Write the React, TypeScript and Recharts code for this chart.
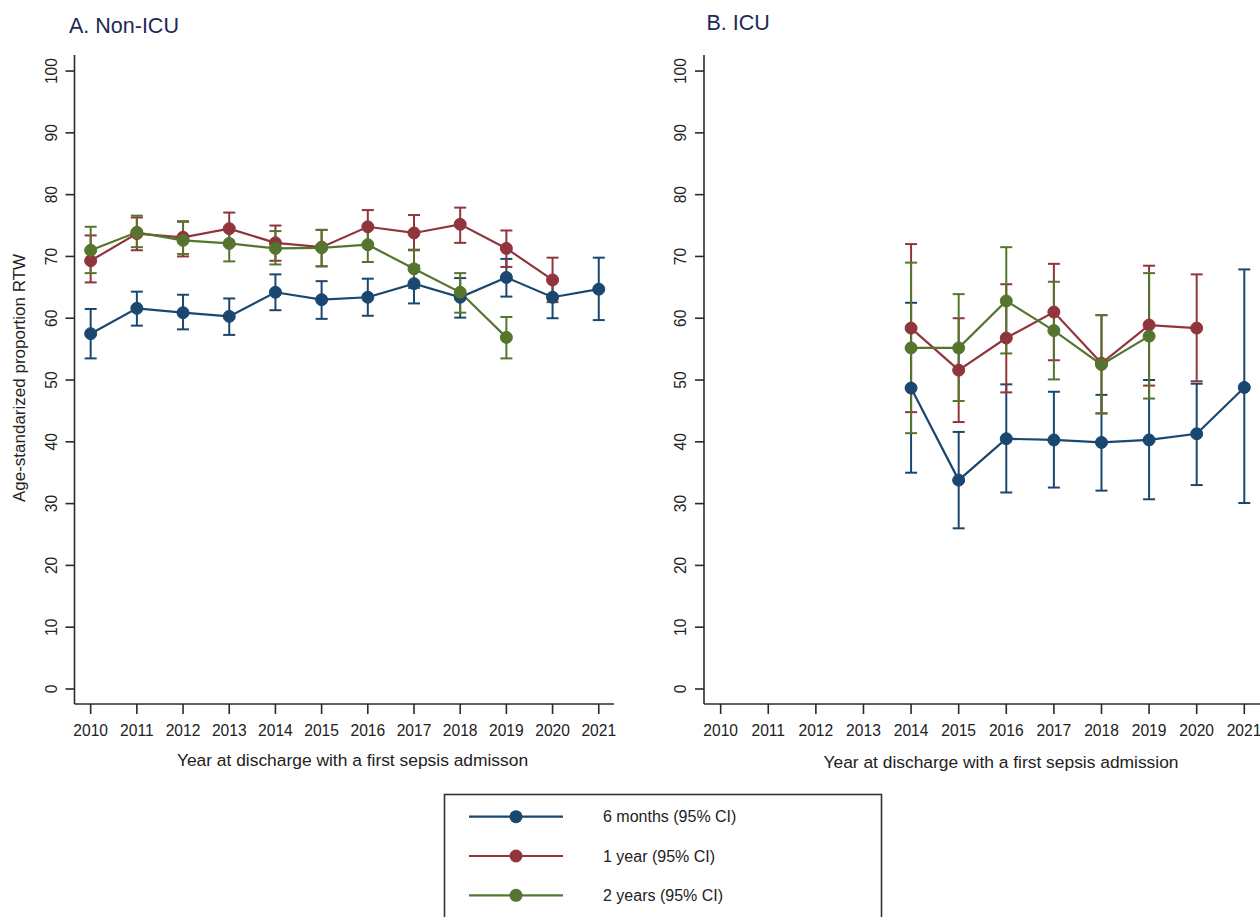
import { ErrorBar, Line, LineChart, XAxis, YAxis } from 'recharts'

// years on the x axis
const years = [2010, 2011, 2012, 2013, 2014, 2015, 2016, 2017, 2018, 2019, 2020, 2021]
const yTicks = [0, 10, 20, 30, 40, 50, 60, 70, 80, 90, 100]

// A. Non-ICU
const nonIcu6m = [57.5, 61.6, 60.9, 60.3, 64.2, 63.0, 63.4, 65.6, 63.4, 66.6, 63.4, 64.7]
const nonIcu6mLo = [53.5, 58.8, 58.2, 57.3, 61.3, 59.9, 60.4, 62.4, 60.1, 63.5, 60.0, 59.7]
const nonIcu6mHi = [61.5, 64.3, 63.8, 63.2, 67.1, 66.0, 66.4, 68.5, 66.5, 69.6, 66.3, 69.8]

const nonIcu1y = [69.3, 73.7, 73.1, 74.5, 72.2, 71.5, 74.8, 73.8, 75.2, 71.3, 66.2]
const nonIcu1yLo = [65.8, 71.0, 70.0, 71.8, 69.3, 68.4, 72.1, 71.0, 72.2, 68.3, 62.6]
const nonIcu1yHi = [73.4, 76.3, 75.7, 77.1, 75.0, 74.3, 77.5, 76.7, 77.9, 74.2, 69.8]

const nonIcu2y = [71.0, 73.9, 72.6, 72.1, 71.3, 71.4, 71.9, 68.0, 64.2, 56.9]
const nonIcu2yLo = [67.3, 71.5, 70.4, 69.2, 68.7, 68.4, 69.1, 64.9, 60.9, 53.5]
const nonIcu2yHi = [74.8, 76.6, 75.6, 74.7, 74.1, 74.3, 74.8, 71.1, 67.3, 60.2]

// B. ICU (starts 2014)
const icuYears = [2014, 2015, 2016, 2017, 2018, 2019, 2020, 2021]

const icu6m = [48.7, 33.8, 40.5, 40.3, 39.9, 40.3, 41.3, 48.8]
const icu6mLo = [35.0, 26.0, 31.8, 32.6, 32.1, 30.7, 33.0, 30.1]
const icu6mHi = [62.5, 41.6, 49.3, 48.1, 47.6, 50.0, 49.4, 67.9]

const icu1y = [58.4, 51.6, 56.8, 61.0, 52.7, 58.9, 58.4]
const icu1yLo = [44.8, 43.2, 48.0, 53.2, 44.6, 49.1, 49.8]
const icu1yHi = [72.0, 60.0, 65.5, 68.8, 60.5, 68.5, 67.1]

const icu2y = [55.2, 55.2, 62.8, 58.0, 52.5, 57.1]
const icu2yLo = [41.4, 46.6, 54.3, 50.1, 44.6, 47.0]
const icu2yHi = [69.0, 63.9, 71.5, 65.9, 60.5, 67.3]

const legendLabels = ['6 months (95% CI)', '1 year (95% CI)', '2 years (95% CI)']

const colors = ['#1a476f', '#90353b', '#55752f']
const FONT = '"Liberation Sans", Arial, Helvetica, sans-serif'
const AXIS = '#2a2a2a'

const toPoints = (xs: number[], vals: number[], lo: number[], hi: number[]) =>
  vals.map((v, i) => ({ year: xs[i], value: v, err: [v - lo[i], hi[i] - v] }))

const nonIcuSeries = [
  toPoints(years, nonIcu6m, nonIcu6mLo, nonIcu6mHi),
  toPoints(years, nonIcu1y, nonIcu1yLo, nonIcu1yHi),
  toPoints(years, nonIcu2y, nonIcu2yLo, nonIcu2yHi),
]
const icuSeries = [
  toPoints(icuYears, icu6m, icu6mLo, icu6mHi),
  toPoints(icuYears, icu1y, icu1yLo, icu1yHi),
  toPoints(icuYears, icu2y, icu2yLo, icu2yHi),
]

const YTick = ({ x, y, payload }: any) => (
  <text
    x={x - 12}
    y={y}
    transform={`rotate(-90 ${x - 12} ${y})`}
    textAnchor='middle'
    dominantBaseline='central'
    fontSize={15.6}
    fontFamily={FONT}
    fill='#222'
  >
    {payload.value}
  </text>
)

const XTick = ({ x, y, payload }: any) => (
  <text
    x={x}
    y={y + 14}
    textAnchor='middle'
    dominantBaseline='central'
    fontSize={15.6}
    fontFamily={FONT}
    fill='#222'
  >
    {payload.value}
  </text>
)

type PanelProps = {
  series: { year: number; value: number; err: number[] }[][]
  left: number
  marginLeft: number
  marginRight: number
}

const Panel = ({ series, left, marginLeft, marginRight }: PanelProps) => (
  <div style={{ position: 'absolute', left, top: 0 }}>
    <LineChart
      width={630}
      height={800}
      margin={{ top: 55, right: marginRight, bottom: 36, left: marginLeft }}
    >
      <XAxis
        dataKey='year'
        type='number'
        domain={[2009.65, 2021.33]}
        ticks={years}
        allowDataOverflow
        height={60}
        tickSize={10}
        tickMargin={2}
        axisLine={{ stroke: AXIS, strokeWidth: 1.6 }}
        tickLine={{ stroke: AXIS, strokeWidth: 1.6 }}
        tick={<XTick />}
      />
      <YAxis
        type='number'
        domain={[-2.43, 102.6]}
        ticks={yTicks}
        allowDataOverflow
        width={50}
        tickSize={9}
        tickMargin={2}
        axisLine={{ stroke: AXIS, strokeWidth: 1.6 }}
        tickLine={{ stroke: AXIS, strokeWidth: 1.6 }}
        tick={<YTick />}
      />
      {series.map((pts, i) => (
        <Line
          key={i}
          data={pts}
          dataKey='value'
          type='linear'
          stroke={colors[i]}
          strokeWidth={2.2}
          dot={{ r: 6, fill: colors[i], stroke: colors[i], strokeWidth: 1 }}
          activeDot={false}
          isAnimationActive={false}
        >
          <ErrorBar
            dataKey='err'
            direction='y'
            width={6}
            stroke={colors[i]}
            strokeWidth={2}
          />
        </Line>
      ))}
    </LineChart>
  </div>
)

const legendRows = [816.7, 856, 895.3]

export default function App() {
  return (
    <div
      style={{
        position: 'absolute',
        left: 0,
        top: 0,
        width: 1260,
        height: 917,
        background: '#fff',
        overflow: 'hidden',
        fontFamily: FONT,
      }}
    >
      <Panel series={nonIcuSeries} left={0} marginLeft={24.5} marginRight={16} />
      <Panel series={icuSeries} left={630} marginLeft={24} marginRight={0} />
      <svg
        width={1260}
        height={917}
        style={{ position: 'absolute', left: 0, top: 0, pointerEvents: 'none' }}
        fontFamily={FONT}
      >
        <text x={69} y={32.7} fontSize={21.5} fill='#1c2a55'>
          A. Non-ICU
        </text>
        <text x={706.5} y={30.2} fontSize={21.5} fill='#1c2a55'>
          B. ICU
        </text>
        <text
          x={25}
          y={378}
          fontSize={17}
          fill='#222'
          textAnchor='middle'
          transform='rotate(-90 25 378)'
        >
          Age-standarized proportion RTW
        </text>
        <text x={352.5} y={766} fontSize={17.4} fill='#222' textAnchor='middle'>
          Year at discharge with a first sepsis admisson
        </text>
        <text x={1001} y={768} fontSize={17.4} fill='#222' textAnchor='middle'>
          Year at discharge with a first sepsis admission
        </text>
        <rect x={444.5} y={794.5} width={437} height={140} fill='none' stroke='#333' strokeWidth={1.6} />
        {legendLabels.map((label, i) => (
          <g key={label}>
            <line x1={469} x2={563} y1={legendRows[i]} y2={legendRows[i]} stroke={colors[i]} strokeWidth={2.2} />
            <circle cx={516} cy={legendRows[i]} r={6.5} fill={colors[i]} />
            <text x={603} y={legendRows[i]} dominantBaseline='central' fontSize={16} fill='#222'>
              {label}
            </text>
          </g>
        ))}
      </svg>
    </div>
  )
}
